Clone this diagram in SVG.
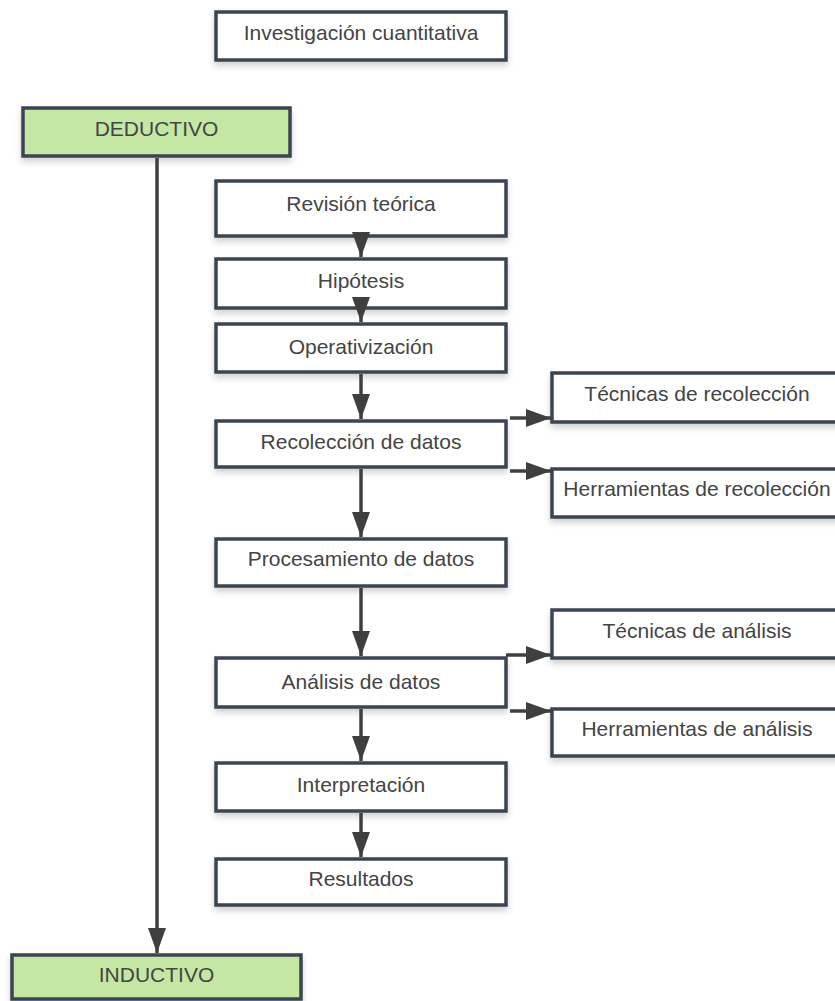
<svg xmlns="http://www.w3.org/2000/svg" width="835" height="1001" viewBox="0 0 835 1001">
<defs>
<style>
.box{fill:#ffffff;stroke:#3a4451;stroke-width:3.5;filter:url(#sh)}
.green{fill:#c4e7a4}
.t{font-family:"Liberation Sans",Arial,sans-serif;font-size:21px;fill:#444444;text-anchor:middle}
.c{stroke:#3f3f3f;stroke-width:3.5;fill:none;marker-end:url(#ah)}
</style>
<filter id="sh" x="-10%" y="-20%" width="120%" height="160%">
<feDropShadow dx="0" dy="4" stdDeviation="3" flood-color="#000" flood-opacity="0.18"/>
</filter>
<marker id="ah" markerUnits="userSpaceOnUse" markerWidth="26" markerHeight="18" refX="25" refY="9" orient="auto">
<path d="M0,0 L25,9 L0,18 Z" fill="#3f3f3f"/>
</marker>
</defs>
<rect width="835" height="1001" fill="#ffffff"/>
<g id="investigacion"><rect class="box" x="216" y="12" width="290" height="48"/><text class="t" x="361" y="40">Investigación cuantitativa</text></g>
<g id="deductivo"><rect class="box green" x="23" y="108" width="267" height="48"/><text class="t" x="156.5" y="135.5">DEDUCTIVO</text></g>
<g id="revision"><rect class="box" x="216" y="181" width="290" height="55"/><text class="t" x="361" y="211">Revisión teórica</text></g>
<g id="hipotesis"><rect class="box" x="216" y="259" width="290" height="49"/><text class="t" x="361" y="288">Hipótesis</text></g>
<g id="operativizacion"><rect class="box" x="216" y="324" width="290" height="48"/><text class="t" x="361" y="354">Operativización</text></g>
<g id="recoleccion"><rect class="box" x="216" y="421" width="290" height="46"/><text class="t" x="361" y="449">Recolección de datos</text></g>
<g id="tecnicas-recoleccion"><rect class="box" x="552" y="373" width="291" height="49"/><text class="t" x="697" y="401">Técnicas de recolección</text></g>
<g id="herramientas-recoleccion"><rect class="box" x="552" y="469" width="291" height="48"/><text class="t" x="697" y="496">Herramientas de recolección</text></g>
<g id="procesamiento"><rect class="box" x="216" y="539" width="290" height="47"/><text class="t" x="361" y="566">Procesamiento de datos</text></g>
<g id="tecnicas-analisis"><rect class="box" x="552" y="610" width="291" height="48"/><text class="t" x="697" y="638">Técnicas de análisis</text></g>
<g id="analisis"><rect class="box" x="216" y="658" width="290" height="49"/><text class="t" x="361" y="689">Análisis de datos</text></g>
<g id="herramientas-analisis"><rect class="box" x="552" y="709" width="291" height="47"/><text class="t" x="697" y="736">Herramientas de análisis</text></g>
<g id="interpretacion"><rect class="box" x="216" y="763" width="290" height="48"/><text class="t" x="361" y="792">Interpretación</text></g>
<g id="resultados"><rect class="box" x="216" y="859" width="290" height="46"/><text class="t" x="361" y="886">Resultados</text></g>
<g id="inductivo"><rect class="box green" x="12" y="955" width="289" height="44"/><text class="t" x="156.5" y="982">INDUCTIVO</text></g>
<g id="connectors">
<path class="c" d="M157,158 V953"/>
<path class="c" d="M361,238 V257"/>
<path class="c" d="M361,310 V322"/>
<path class="c" d="M361,374 V419"/>
<path class="c" d="M361,469 V537"/>
<path class="c" d="M361,588 V656"/>
<path class="c" d="M361,709 V761"/>
<path class="c" d="M361,813 V857"/>
<path class="c" d="M510,418 H551"/>
<path class="c" d="M510,471 H551"/>
<path class="c" d="M506,655 H551"/>
<path class="c" d="M510,711 H551"/>
</g>
</svg>
